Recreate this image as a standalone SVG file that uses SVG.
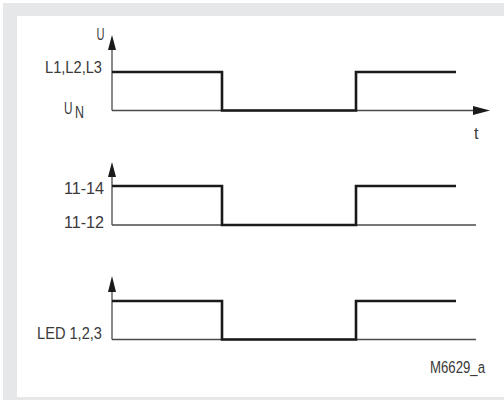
<svg xmlns="http://www.w3.org/2000/svg" width="504" height="400" viewBox="0 0 504 400">
<defs>
<style>
.thin{stroke:#4a4a4a;stroke-width:1.3;fill:none}
.sig{stroke:#1a1a1a;stroke-width:2.6;fill:none;stroke-linejoin:miter}
.arr{fill:#1a1a1a}
text{font-family:"Liberation Sans",Arial,sans-serif;font-size:17px;fill:#3a3a3a}
</style>
</defs>
<rect x="3" y="3" width="501" height="397" fill="#e6e7e8"/>
<rect x="17" y="16" width="487" height="381" fill="#ffffff"/>
<g id="panel-supply">
<line class="thin" x1="112" y1="48" x2="112" y2="110.5"/>
<polygon class="arr" points="112,35 116,50 108,50"/>
<line class="thin" x1="112" y1="110.5" x2="476" y2="110.5"/>
<polygon class="arr" points="490,110.5 473,106 473,115"/>
<polyline class="sig" points="112,72 222,72 222,110.5 356,110.5 356,72 456,72"/>
<text x="96.5" y="39.5" textLength="8" lengthAdjust="spacingAndGlyphs">U</text>
<text x="45" y="72.5" textLength="57" lengthAdjust="spacingAndGlyphs">L1,L2,L3</text>
<text x="64" y="113.5" textLength="8.5" lengthAdjust="spacingAndGlyphs">U</text>
<text x="75" y="117.5" textLength="9" lengthAdjust="spacingAndGlyphs">N</text>
<text x="474" y="138.5" textLength="4.5" lengthAdjust="spacingAndGlyphs">t</text>
</g>
<g id="panel-relay">
<line class="thin" x1="112" y1="175" x2="112" y2="225"/>
<polygon class="arr" points="112,162 116,177 108,177"/>
<line class="thin" x1="112" y1="225" x2="476" y2="225"/>
<polyline class="sig" points="112,186 222,186 222,225 356,225 356,186 456,186"/>
<text x="64" y="193.5" textLength="40" lengthAdjust="spacingAndGlyphs">11-14</text>
<text x="64" y="227.5" textLength="40" lengthAdjust="spacingAndGlyphs">11-12</text>
</g>
<g id="panel-led">
<line class="thin" x1="112" y1="290" x2="112" y2="339.5"/>
<polygon class="arr" points="112,276 116,292 108,292"/>
<line class="thin" x1="112" y1="339.5" x2="476" y2="339.5"/>
<polyline class="sig" points="112,301 222,301 222,339.5 356,339.5 356,301 456,301"/>
<text x="37" y="338.5" textLength="65" lengthAdjust="spacingAndGlyphs">LED 1,2,3</text>
</g>
<text x="430" y="373" textLength="55" lengthAdjust="spacingAndGlyphs" style="font-size:16px">M6629_a</text>
</svg>
